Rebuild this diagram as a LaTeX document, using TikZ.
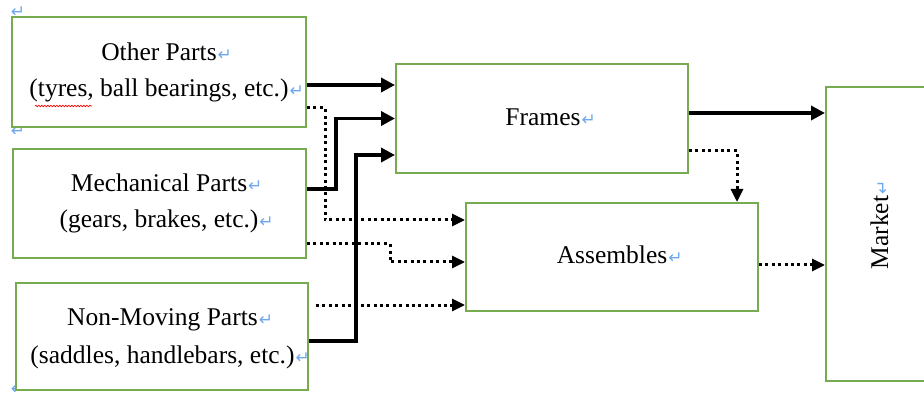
\documentclass[tikz,border=0pt]{standalone}
\usepackage{fontspec}
\setmainfont{Liberation Serif}
\newfontfamily\markfont{DejaVu Sans}
\usetikzlibrary{arrows.meta,decorations.pathmorphing}
\definecolor{boxgreen}{HTML}{77AB4F}
\definecolor{retblue}{HTML}{6FA8EE}
\newcommand\retmk{\rlap{\hspace{1pt}{\markfont\fontsize{17}{17}\selectfont\textcolor{retblue}{↵}}}}
\begin{document}
\begin{tikzpicture}[x=1pt,y=-1pt,
  box/.style={draw=boxgreen,line width=2pt,fill=white,rectangle,inner sep=0pt},
  lbl/.style={anchor=base,inner sep=0pt,font=\fontsize{25.5}{30}\selectfont},
  mk/.style={inner sep=0pt,font=\markfont\fontsize{17}{17}\selectfont,text=retblue},
  solidarr/.style={line width=3.8pt,-{Triangle[length=14pt,width=14pt]}},
  dotarr/.style={line width=3pt,dash pattern=on 3pt off 3.4pt,-{Triangle[length=13pt,width=12pt]}}]
\useasboundingbox (0,0) rectangle (924,398);
\begin{scope}
\clip (0,0) rectangle (924,398);
% margin paragraph marks
\node[mk] (m1) at (18,12) {↵};
\node[mk] (m2) at (18,131) {↵};
\node[mk] (m3) at (18,389) {↵};
% boxes
\node[box,minimum width=294pt,minimum height=110pt] (op) at (159,72) {};
\node[box,minimum width=293pt,minimum height=109pt] (mp) at (159.5,203.5) {};
\node[box,minimum width=292pt,minimum height=107pt] (np) at (162,336.5) {};
\node[box,minimum width=292pt,minimum height=109pt] (fr) at (542,118.5) {};
\node[box,minimum width=292pt,minimum height=108pt] (as) at (612,257) {};
\node[box,minimum width=110pt,minimum height=294pt] (mk) at (881,234) {};
% texts
\node[lbl] (t1a) at (159,61) {Other Parts\retmk};
\node[lbl] (t1b) at (159,97) {(tyres, ball bearings, etc.)\retmk};
\node[lbl] (t2a) at (159,192) {Mechanical Parts\retmk};
\node[lbl] (t2b) at (159,228) {(gears, brakes, etc.)\retmk};
\node[lbl] (t3a) at (162.5,325) {Non-Moving Parts\retmk};
\node[lbl] (t3b) at (162.5,363) {(saddles, handlebars, etc.)\retmk};
\node[lbl] (tf) at (543,126) {Frames\retmk};
\node[lbl] (ta) at (612,264) {Assembles\retmk};
\node[lbl,rotate=90] (tm) at (888,232.5) {Market\retmk};
\draw[red,line width=0.7pt,decorate,decoration={snake,amplitude=0.7pt,segment length=3pt}] (35,106) -- (92,106);
% solid connectors
\draw[solidarr] ([yshift=-13pt]op.east) coordinate (s1) -- (s1 -| fr.west);
\draw[solidarr] ([yshift=14.5pt]mp.east) -- ++(29,0) |- (fr.west);
\draw[solidarr] ([yshift=-4.5pt]np.east) -- ++(47,0) |- ([yshift=-36.5pt]fr.west);
\draw[solidarr] ([yshift=5.5pt]fr.east) coordinate (s4) -- (s4 -| mk.west);
% dotted connectors
\draw[dotarr] ([yshift=-36pt]op.east) -- ++(18,0) |- ([yshift=37pt]as.west);
\draw[dotarr] ([yshift=-40.5pt]mp.east) -- ++(83,0) |- ([yshift=-5pt]as.west);
\draw[dotarr] ([xshift=7pt,yshift=31.5pt]np.east) coordinate (d3) -- (d3 -| as.west);
\draw[dotarr] ([yshift=-32.5pt]fr.east) -| ([xshift=125pt]as.north);
\draw[dotarr] ([yshift=-8pt]as.east) coordinate (d5) -- (d5 -| mk.west);
\end{scope}
\end{tikzpicture}
\end{document}
